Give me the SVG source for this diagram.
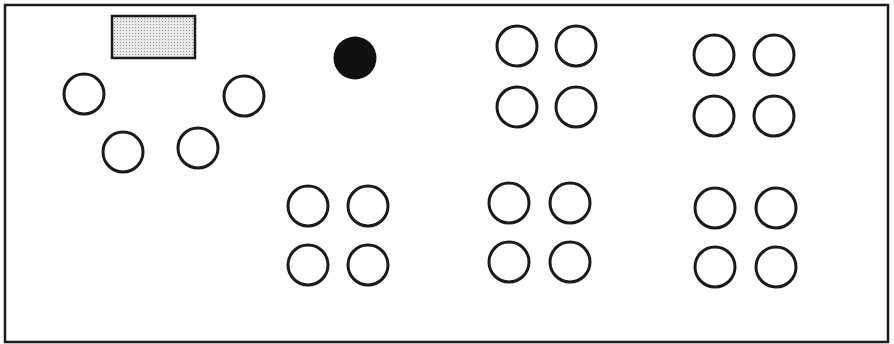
<svg xmlns="http://www.w3.org/2000/svg" width="894" height="344" viewBox="0 0 894 344">
<style>
.seat{fill:none;stroke:#1a1a1a;stroke-width:3}
</style>
<defs>
<pattern id="dots" width="3" height="3" patternUnits="userSpaceOnUse">
<rect width="3" height="3" fill="#e8e8e8"/>
<rect width="1" height="1" fill="#999"/>
</pattern>
</defs>
<rect x="0" y="0" width="894" height="344" fill="#fff"/>
<rect id="room" x="5" y="5" width="883" height="337" fill="#fff" stroke="#1a1a1a" stroke-width="2.5"/>
<g id="desk"><rect x="112" y="16" width="83" height="42" fill="url(#dots)" stroke="#1a1a1a" stroke-width="2.5"/></g>
<g id="blackdot"><circle cx="355" cy="58" r="21.5" fill="#111"/></g>
<g id="group1">
<circle class="seat" cx="84" cy="94" r="20"/>
<circle class="seat" cx="244" cy="96" r="20"/>
<circle class="seat" cx="123" cy="152" r="20"/>
<circle class="seat" cx="198" cy="148" r="20"/>
</g>
<g id="group2">
<circle class="seat" cx="517" cy="46" r="20"/>
<circle class="seat" cx="576" cy="46" r="20"/>
<circle class="seat" cx="517" cy="107" r="20"/>
<circle class="seat" cx="576" cy="107" r="20"/>
</g>
<g id="group3">
<circle class="seat" cx="714" cy="55" r="20"/>
<circle class="seat" cx="774" cy="55" r="20"/>
<circle class="seat" cx="714" cy="116" r="20"/>
<circle class="seat" cx="774" cy="116" r="20"/>
</g>
<g id="group4">
<circle class="seat" cx="308" cy="206" r="20"/>
<circle class="seat" cx="368" cy="206" r="20"/>
<circle class="seat" cx="308" cy="265" r="20"/>
<circle class="seat" cx="368" cy="265" r="20"/>
</g>
<g id="group5">
<circle class="seat" cx="509" cy="203" r="20"/>
<circle class="seat" cx="570" cy="203" r="20"/>
<circle class="seat" cx="509" cy="262" r="20"/>
<circle class="seat" cx="570" cy="262" r="20"/>
</g>
<g id="group6">
<circle class="seat" cx="715" cy="208" r="20"/>
<circle class="seat" cx="776" cy="208" r="20"/>
<circle class="seat" cx="715" cy="267" r="20"/>
<circle class="seat" cx="776" cy="267" r="20"/>
</g>
</svg>
